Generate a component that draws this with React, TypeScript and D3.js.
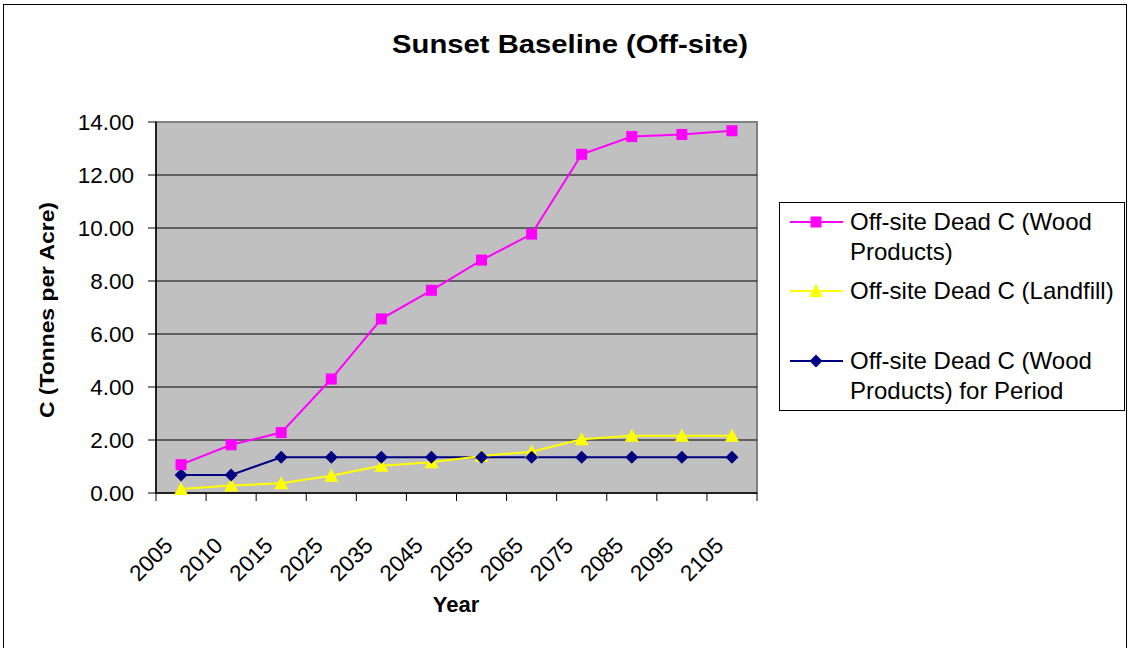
import React from "react";
import * as d3 from "d3";

const categories = ["2005", "2010", "2015", "2025", "2035", "2045", "2055", "2065", "2075", "2085", "2095", "2105"];
const woodProducts = [1.07, 1.82, 2.28, 4.3, 6.57, 7.65, 8.79, 9.77, 12.78, 13.45, 13.53, 13.67];
const landfill = [0.15, 0.28, 0.37, 0.65, 1.03, 1.16, 1.4, 1.56, 2.03, 2.16, 2.16, 2.16];
const woodPeriod = [0.68, 0.68, 1.35, 1.35, 1.35, 1.35, 1.35, 1.35, 1.35, 1.35, 1.35, 1.35];
const yTicks = [0, 2, 4, 6, 8, 10, 12, 14];

const FONT = "Liberation Sans, Arial, sans-serif";

export default function App() {
  const left = 156, right = 757, top = 122, bottom = 493;
  const x = d3.scaleBand().domain(categories).range([left, right]);
  const y = d3.scaleLinear().domain([0, 14]).range([bottom, top]);
  const cx = (c: string) => (x(c) as number) + x.bandwidth() / 2;
  const line = d3.line<number>().x((_, i) => cx(categories[i])).y((v) => y(v));

  const square = (px: number, py: number, k: string) => (
    <rect key={k} x={px - 5.5} y={py - 5.5} width={11} height={11} fill="#FF00FF" />
  );
  const tri = (px: number, py: number, k: string) => (
    <path key={k} d={`M${px},${py - 7}L${px + 7},${py + 6}L${px - 7},${py + 6}Z`} fill="#FFFF00" />
  );
  const diamond = (px: number, py: number, k: string) => (
    <path key={k} d={`M${px},${py - 6.5}L${px + 6.5},${py}L${px},${py + 6.5}L${px - 6.5},${py}Z`} fill="#000080" />
  );

  const boundaries = categories.map((c) => x(c) as number).concat([right]);

  const legendItems = [
    { color: "#FF00FF", marker: square, lines: ["Off-site Dead C (Wood", "Products)"], y: 222 },
    { color: "#FFFF00", marker: tri, lines: ["Off-site Dead C (Landfill)"], y: 291 },
    { color: "#000080", marker: diamond, lines: ["Off-site Dead C (Wood", "Products) for Period"], y: 361 },
  ];

  return (
    <svg width={1130} height={648} style={{ position: "absolute", left: 0, top: 0 }}>
      <rect x={0} y={0} width={1130} height={648} fill="#fff" />
      <rect x={3.5} y={4.5} width={1123} height={650} fill="none" stroke="#000" strokeWidth={1} />
      <text
        x={570}
        y={53}
        textAnchor="middle"
        fontFamily={FONT}
        fontWeight="bold"
        fontSize={26}
        textLength={356}
        lengthAdjust="spacingAndGlyphs"
      >
        Sunset Baseline (Off-site)
      </text>

      {/* plot area */}
      <rect x={left} y={top} width={right - left} height={bottom - top} fill="#C0C0C0" stroke="#808080" strokeWidth={2} />
      {yTicks.map((t) => (
        <g key={t}>
          {t > 0 && t < 14 && <line x1={left} x2={right} y1={y(t)} y2={y(t)} stroke="#000" strokeWidth={1} />}
          <line x1={left - 8} x2={left} y1={y(t)} y2={y(t)} stroke="#000" strokeWidth={1} />
          <text x={134} y={y(t)} dy="0.35em" textAnchor="end" fontFamily={FONT} fontSize={22.5}>
            {t.toFixed(2)}
          </text>
        </g>
      ))}
      <line x1={left} x2={left} y1={top} y2={bottom} stroke="#000" strokeWidth={1.5} />
      <line x1={left} x2={right} y1={bottom} y2={bottom} stroke="#000" strokeWidth={1.5} />
      {boundaries.map((b, i) => (
        <line key={i} x1={b} x2={b} y1={bottom} y2={bottom + 8} stroke="#000" strokeWidth={1} />
      ))}
      {categories.map((c) => (
        <text
          key={c}
          transform={`translate(${cx(c) - 7},${bottom + 54}) rotate(-45)`}
          textAnchor="end"
          fontFamily={FONT}
          fontSize={22.5}
        >
          {c}
        </text>
      ))}
      <text x={456} y={612} textAnchor="middle" fontFamily={FONT} fontWeight="bold" fontSize={22}>
        Year
      </text>
      <text
        transform={`translate(54,310) rotate(-90)`}
        textAnchor="middle"
        fontFamily={FONT}
        fontWeight="bold"
        fontSize={21}
        textLength={216}
        lengthAdjust="spacingAndGlyphs"
      >
        C (Tonnes per Acre)
      </text>

      {/* series */}
      <path d={line(woodPeriod) as string} fill="none" stroke="#000080" strokeWidth={2} />
      <path d={line(landfill) as string} fill="none" stroke="#FFFF00" strokeWidth={2} />
      <path d={line(woodProducts) as string} fill="none" stroke="#FF00FF" strokeWidth={2} />
      {landfill.map((v, i) => tri(cx(categories[i]), y(v), "t" + i))}
      {woodPeriod.map((v, i) => diamond(cx(categories[i]), y(v), "d" + i))}
      {woodProducts.map((v, i) => square(cx(categories[i]), y(v), "s" + i))}

      {/* legend */}
      <rect x={779.5} y={202.5} width={345} height={208} fill="#fff" stroke="#000" strokeWidth={1} />
      {legendItems.map((it, i) => (
        <g key={i}>
          <line x1={790} x2={843} y1={it.y} y2={it.y} stroke={it.color} strokeWidth={2} />
          {it.marker(816, it.y, "lm" + i)}
          {it.lines.map((l, j) => (
            <text key={j} x={850} y={it.y + j * 30} dy="0.35em" fontFamily={FONT} fontSize={24}>
              {l}
            </text>
          ))}
        </g>
      ))}
    </svg>
  );
}
